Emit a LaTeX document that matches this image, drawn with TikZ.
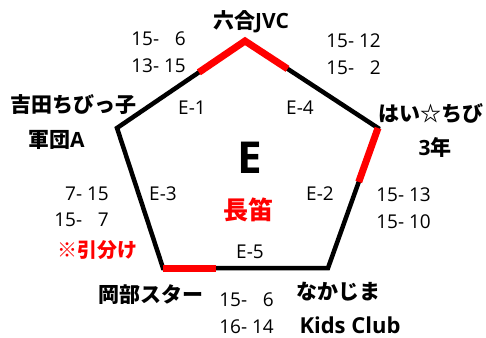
\documentclass[tikz,border=0pt]{standalone}
\usepackage{fontspec}
\setmainfont{Open Sans}
\newfontfamily\jp{Noto Sans CJK JP}
\usepackage{xcolor}
\usetikzlibrary{positioning, calc}
\definecolor{losered}{HTML}{FF0000}
\tikzset{
  team/.style={font=\fontsize{21}{26}\selectfont\bfseries, inner sep=0pt},
  score/.style={font=\fontsize{19}{26.5}\selectfont, align=right, inner sep=0pt},
  matchlbl/.style={font=\fontsize{19}{24}\selectfont, inner sep=0pt},
  edge/.style={line width=4.5pt, draw=black, line join=miter},
  lost/.style={line width=7pt, draw=losered, line cap=butt, line join=miter},
}

\begin{document}
\begin{tikzpicture}[x=1pt, y=-1pt]
  \useasboundingbox (0,0) rectangle (486,337);

  % pentagon corners
  \coordinate (top) at (245,41);
  \coordinate (ul) at (117,128);
  \coordinate (ur) at (378,128);
  \coordinate (bl) at (163,268);
  \coordinate (br) at (328,268);

  % ends of the red (lost) stretches
  \coordinate (r1) at ($(ul)!0.64!(top)$);
  \coordinate (r4) at ($(top)!0.32!(ur)$);
  \coordinate (r2) at ($(ur)!0.385!(br)$);
  \coordinate (r5) at ($(bl)!0.32!(br)$);

  \draw[edge] (top) -- (ur) -- (br) -- (bl) -- (ul) -- cycle;
  \draw[lost] (r1) -- (top) -- (r4);
  \draw[lost] (ur) -- (r2);
  \draw[lost] (bl) -- (r5);

  % block name
  \node[font=\fontsize{44}{44}\selectfont\bfseries] (blk) at (250,158) {E};
  \node[font=\fontsize{25}{25}\selectfont\bfseries\jp, text=losered] (venue) at (248,210) {長笛};

  % match labels
  \node[matchlbl] (e1) at (192,108) {E-1};
  \node[matchlbl] (e4) at (300,108) {E-4};
  \node[matchlbl] (e3) at (163,194) {E-3};
  \node[matchlbl] (e2) at (320,194) {E-2};
  \node[matchlbl] (e5) at (250,252) {E-5};

  % teams
  \node[team] (rikugo) at (251,22) {{\jp 六合}JVC};
  \node[team, anchor=west] (yoshida) at (10,105) {\jp 吉田ちびっ子};
  \node[team, anchor=west] (gundan) at (28,140) {{\jp 軍団}A};
  \node[team] (haichibi) at (431,113) {\jp はい☆ちび};
  \node[team] (sannen) at (435,147) {3{\jp 年}};
  \node[team] (okabe) at (151,295) {\jp 岡部スター};
  \node[team] (nakajima) at (338,292) {\jp なかじま};
  \node[team, anchor=base, font=\fontsize{22}{26}\selectfont\bfseries] (kids) at (350,333) {Kids Club};
  \node[team, text=losered, font=\fontsize{20}{24}\selectfont\bfseries\jp] (draw3) at (97,250) {※引分け};

  % scores
  \node[score, anchor=east] (s1) at (186,52) {15- \phantom{1}6\\13- 15};
  \node[score, anchor=east] (s4) at (381,54) {15- 12\\15- \phantom{1}2};
  \node[score, anchor=east] (s3) at (109,207) {7- 15\\15- \phantom{1}7};
  \node[score, anchor=east] (s2) at (431,208) {15- 13\\15- 10};
  \node[score, anchor=east] (s5) at (274,313) {15- \phantom{1}6\\16- 14};
\end{tikzpicture}
\end{document}
